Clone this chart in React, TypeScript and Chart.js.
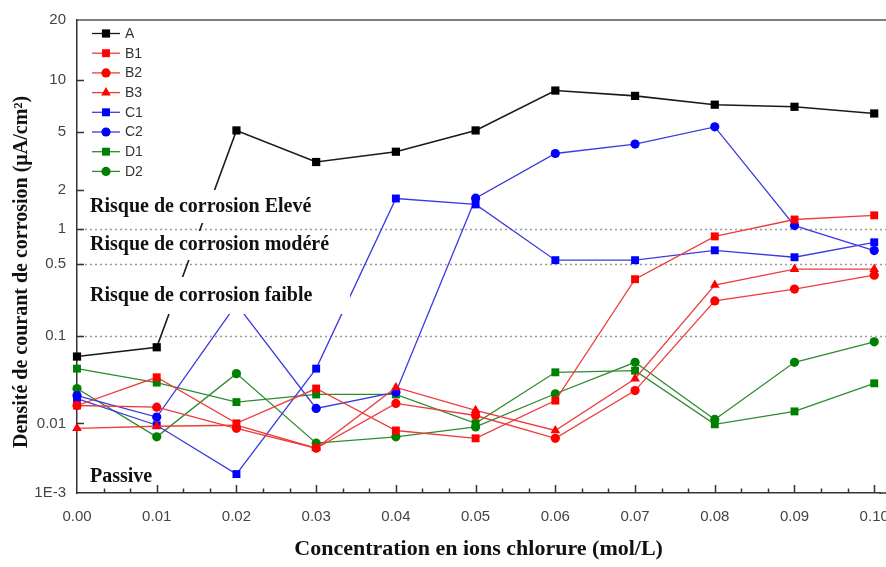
import React, { useEffect, useRef } from 'react';
import { Chart, registerables, LogarithmicScale } from 'chart.js';

Chart.register(...registerables);

// ---------------- data ----------------
const CONCENTRATIONS = [0, 0.01, 0.02, 0.03, 0.04, 0.05, 0.06, 0.07, 0.08, 0.09, 0.1];
const X_TICKS = [0, 0.01, 0.02, 0.03, 0.04, 0.05, 0.06, 0.07, 0.08, 0.09, 0.1];
const Y_TICKS = [0.001, 0.01, 0.1, 0.5, 1, 2, 5, 10, 20];
const Y_TICK_LABELS = ['1E-3', '0.01', '0.1', '0.5', '1', '2', '5', '10', '20'];
const THRESHOLDS = [1, 0.5, 0.1];

const SERIES_A = [0.058, 0.074, 5.1, 3.1, 3.65, 5.1, 8.7, 8.1, 7.2, 7.0, 6.4];
const SERIES_B1 = [0.016, 0.0336, 0.01, 0.025, 0.0079, 0.0061, 0.0182, 0.357, 0.863, 1.18, 1.27];
const SERIES_B2 = [0.016, 0.0153, 0.0085, 0.0044, 0.0169, 0.0123, 0.0061, 0.0237, 0.219, 0.286, 0.391];
const SERIES_B3 = [0.0085, 0.0091, 0.0094, 0.0044, 0.0257, 0.0141, 0.0079, 0.0324, 0.313, 0.447, 0.447];
const SERIES_C1 = [0.0192, 0.0094, 0.00187, 0.0422, 1.71, 1.54, 0.541, 0.541, 0.657, 0.573, 0.768];
const SERIES_C2 = [0.0208, 0.0118, 0.204, 0.0148, 0.0227, 1.72, 3.55, 4.12, 5.35, 1.06, 0.653];
const SERIES_D1 = [0.0422, 0.0292, 0.0175, 0.0214, 0.0214, 0.01, 0.0383, 0.04, 0.0097, 0.0137, 0.0287];
const SERIES_D2 = [0.025, 0.0064, 0.037, 0.0052, 0.0064, 0.0089, 0.0218, 0.0498, 0.0111, 0.0498, 0.0855];

const SERIES_NAMES = ['A', 'B1', 'B2', 'B3', 'C1', 'C2', 'D1', 'D2'];
const SERIES_VALUES = [SERIES_A, SERIES_B1, SERIES_B2, SERIES_B3, SERIES_C1, SERIES_C2, SERIES_D1, SERIES_D2];

const ZONE_LABELS = ['Risque de corrosion Elevé', 'Risque de corrosion modéré', 'Risque de corrosion faible', 'Passive'];

// --------------- styles ---------------
const STYLES = [
  { line: '#1a1a1a', mark: '#000000', point: 'rect', r: 5.8 },
  { line: '#ee3b3b', mark: '#ff0000', point: 'rect', r: 5.6 },
  { line: '#ee3b3b', mark: '#ff0000', point: 'circle', r: 4.6 },
  { line: '#ee3b3b', mark: '#ff0000', point: 'triangle', r: 5.6 },
  { line: '#3a3ae0', mark: '#0000ff', point: 'rect', r: 5.6 },
  { line: '#3a3ae0', mark: '#0000ff', point: 'circle', r: 4.6 },
  { line: '#2e8b2e', mark: '#008000', point: 'rect', r: 5.6 },
  { line: '#2e8b2e', mark: '#008000', point: 'circle', r: 4.6 },
];

// axis warp of the original figure (fraction of axis height at each tick)
const Y_WARP = [0, 0.1472, 0.3323, 0.4837, 0.5584, 0.6414, 0.7634, 0.8728, 1];
const X_MAX = 0.10075;

class WarpedLogScale extends LogarithmicScale {
  static id = 'warpedLog';
  static defaults = LogarithmicScale.defaults;

  _decimal(value: number) {
    const lv = Math.log10(value);
    const lk = Y_TICKS.map((v) => Math.log10(v));
    let i = 0;
    while (i < lk.length - 2 && lv > lk[i + 1]) i++;
    const t = (lv - lk[i]) / (lk[i + 1] - lk[i]);
    return Y_WARP[i] + t * (Y_WARP[i + 1] - Y_WARP[i]);
  }

  getPixelForValue(value: any) {
    if (value === undefined || value === 0) value = this.min;
    if (value === null || isNaN(value) || value <= 0) return NaN;
    return this.getPixelForDecimal(this._decimal(value));
  }

  getValueForPixel(pixel: number) {
    const d = this.getDecimalForPixel(pixel);
    const lk = Y_TICKS.map((v) => Math.log10(v));
    let i = 0;
    while (i < Y_WARP.length - 2 && d > Y_WARP[i + 1]) i++;
    const t = (d - Y_WARP[i]) / (Y_WARP[i + 1] - Y_WARP[i]);
    return Math.pow(10, lk[i] + t * (lk[i + 1] - lk[i]));
  }
}
Chart.register(WarpedLogScale);

function drawMarker(ctx: CanvasRenderingContext2D, style: string, x: number, y: number, r: number, color: string) {
  ctx.fillStyle = color;
  ctx.beginPath();
  if (style === 'rect') {
    const s = r * Math.SQRT1_2;
    ctx.rect(x - s, y - s, 2 * s, 2 * s);
  } else if (style === 'circle') {
    ctx.arc(x, y, r, 0, Math.PI * 2);
  } else {
    ctx.moveTo(x, y - r);
    ctx.lineTo(x + r * 0.866, y + r * 0.5);
    ctx.lineTo(x - r * 0.866, y + r * 0.5);
    ctx.closePath();
  }
  ctx.fill();
}

const decorPlugin = {
  id: 'decor',
  beforeDatasetsDraw(chart: any) {
    const { ctx, chartArea: ca, scales } = chart;
    const y = scales.y;
    ctx.save();
    ctx.strokeStyle = '#9a9a9a';
    ctx.lineWidth = 1.3;
    ctx.setLineDash([2, 3]);
    for (const v of THRESHOLDS) {
      const py = Math.round(y.getPixelForValue(v)) + 0.5;
      ctx.beginPath();
      ctx.moveTo(ca.left + 3, py);
      ctx.lineTo(chart.width, py);
      ctx.stroke();
    }
    ctx.restore();
  },
  afterDatasetsDraw(chart: any) {
    const { ctx, chartArea: ca, scales } = chart;
    const x = scales.x;
    const y = scales.y;
    ctx.save();

    // zone labels with white backing
    const boxes = [
      { top: 190, bottom: 223, right: 350, ty: 207 },
      { top: 231, bottom: 260, right: 350, ty: 245 },
      { top: 277, bottom: 314, right: 350, ty: 296 },
      { top: 464, bottom: 489, right: 160, ty: 477 },
    ];
    ctx.font = 'bold 20px "Liberation Serif"';
    ctx.textBaseline = 'middle';
    ctx.textAlign = 'left';
    boxes.forEach((b, i) => {
      ctx.fillStyle = '#ffffff';
      ctx.fillRect(ca.left + 9, b.top, b.right - ca.left - 9, b.bottom - b.top);
      ctx.fillStyle = '#111111';
      ctx.fillText(ZONE_LABELS[i], ca.left + 13, b.ty);
    });

    // top frame line and bottom axis continued to the edge
    ctx.strokeStyle = '#555555';
    ctx.lineWidth = 1.5;
    ctx.beginPath();
    ctx.moveTo(ca.left, ca.top);
    ctx.lineTo(chart.width, ca.top);
    ctx.stroke();
    ctx.strokeStyle = '#333333';
    ctx.beginPath();
    ctx.moveTo(ca.right - 1, ca.bottom);
    ctx.lineTo(chart.width, ca.bottom);
    ctx.stroke();

    // inward ticks
    ctx.strokeStyle = '#333333';
    ctx.lineWidth = 1.5;
    Y_TICKS.forEach((v) => {
      if (v === Y_TICKS[0] || v === Y_TICKS[Y_TICKS.length - 1]) return;
      const py = Math.round(y.getPixelForValue(v)) + 0.5;
      ctx.beginPath();
      ctx.moveTo(ca.left, py);
      ctx.lineTo(ca.left + 7, py);
      ctx.stroke();
    });
    for (let i = 0; i < X_TICKS.length; i++) {
      const v = X_TICKS[i];
      const px = Math.round(x.getPixelForValue(v)) + 0.5;
      if (i > 0) {
        ctx.beginPath();
        ctx.moveTo(px, ca.bottom);
        ctx.lineTo(px, ca.bottom - 8);
        ctx.stroke();
      }
      if (i < X_TICKS.length - 1) {
        const step = (X_TICKS[i + 1] - v) / 3;
        for (let k = 1; k < 3; k++) {
          const mx = Math.round(x.getPixelForValue(v + step * k)) + 0.5;
          ctx.beginPath();
          ctx.moveTo(mx, ca.bottom);
          ctx.lineTo(mx, ca.bottom - 4.5);
          ctx.stroke();
        }
      }
    }

    // legend
    ctx.font = '14px "Liberation Sans"';
    ctx.textBaseline = 'middle';
    chart.data.datasets.forEach((ds: any, i: number) => {
      const st = STYLES[i];
      const ly = 33.5 + i * 19.7;
      ctx.strokeStyle = st.line;
      ctx.lineWidth = 1.3;
      ctx.beginPath();
      ctx.moveTo(ca.left + 15, ly);
      ctx.lineTo(ca.left + 43, ly);
      ctx.stroke();
      drawMarker(ctx, st.point, ca.left + 29, ly, st.r, st.mark);
      ctx.fillStyle = '#333333';
      ctx.fillText(ds.label, ca.left + 48, ly + 0.5);
    });

    // y axis title
    ctx.translate(22, 272);
    ctx.rotate(-Math.PI / 2);
    ctx.font = 'bold 20px "Liberation Serif"';
    ctx.textAlign = 'center';
    ctx.fillStyle = '#111111';
    ctx.fillText('Densité de courant de corrosion (µA/cm²)', 0, 0);
    ctx.restore();
  },
};

export default function App() {
  const ref = useRef<HTMLCanvasElement | null>(null);

  useEffect(() => {
    if (!ref.current) return;
    document.body.style.margin = '0';
    const datasets = SERIES_VALUES.map((vals, i) => ({
      label: SERIES_NAMES[i],
      data: vals.map((v, j) => ({ x: CONCENTRATIONS[j], y: v })),
      borderColor: STYLES[i].line,
      borderWidth: i === 0 ? 1.6 : 1.3,
      pointStyle: STYLES[i].point,
      pointRadius: STYLES[i].r,
      pointBackgroundColor: STYLES[i].mark,
      pointBorderColor: STYLES[i].mark,
      pointBorderWidth: 0,
      tension: 0,
      clip: false,
    }));
    const chart = new Chart(ref.current, {
      type: 'line',
      data: { datasets },
      options: {
        responsive: false,
        animation: false,
        devicePixelRatio: 1,
        layout: { padding: { top: 17.5, left: 0, right: 0, bottom: 0 } },
        plugins: { legend: { display: false }, tooltip: { enabled: false } },
        scales: {
          x: {
            type: 'linear',
            min: 0,
            max: X_MAX,
            afterBuildTicks: (s: any) => {
              s.ticks = X_TICKS.map((v) => ({ value: v }));
            },
            afterFit: (s: any) => {
              s.height = 74;
              s.paddingRight = 0;
            },
            grid: { display: false, drawTicks: false },
            border: { display: true, color: '#333333', width: 1.5 },
            ticks: {
              autoSkip: false,
              maxRotation: 0,
              padding: 15,
              color: '#444444',
              font: { family: 'Liberation Sans', size: 15 },
              callback: (v: any) => Number(v).toFixed(2),
            },
            title: {
              display: true,
              text: 'Concentration en ions chlorure (mol/L)',
              color: '#111111',
              font: { family: 'Liberation Serif', size: 22, weight: 'bold' },
              padding: { top: 0, bottom: 4 },
            },
          },
          y: {
            type: 'warpedLog' as any,
            min: 0.001,
            max: 20,
            afterBuildTicks: (s: any) => {
              s.ticks = Y_TICKS.map((v) => ({ value: v }));
            },
            afterFit: (s: any) => {
              s.width = 77;
            },
            grid: { display: false, drawTicks: false },
            border: { display: true, color: '#333333', width: 1.5 },
            ticks: {
              autoSkip: false,
              padding: 11,
              color: '#444444',
              font: { family: 'Liberation Sans', size: 15 },
              callback: (_v: any, idx: number) => Y_TICK_LABELS[idx],
            },
          },
        },
      },
      plugins: [decorPlugin],
    } as any);
    return () => chart.destroy();
  }, []);

  return (
    <div style={{ position: 'fixed', left: 0, top: 0, width: 886, height: 567, overflow: 'hidden', background: '#ffffff' }}>
      <canvas ref={ref} width={886} height={567} style={{ display: 'block' }} />
    </div>
  );
}
